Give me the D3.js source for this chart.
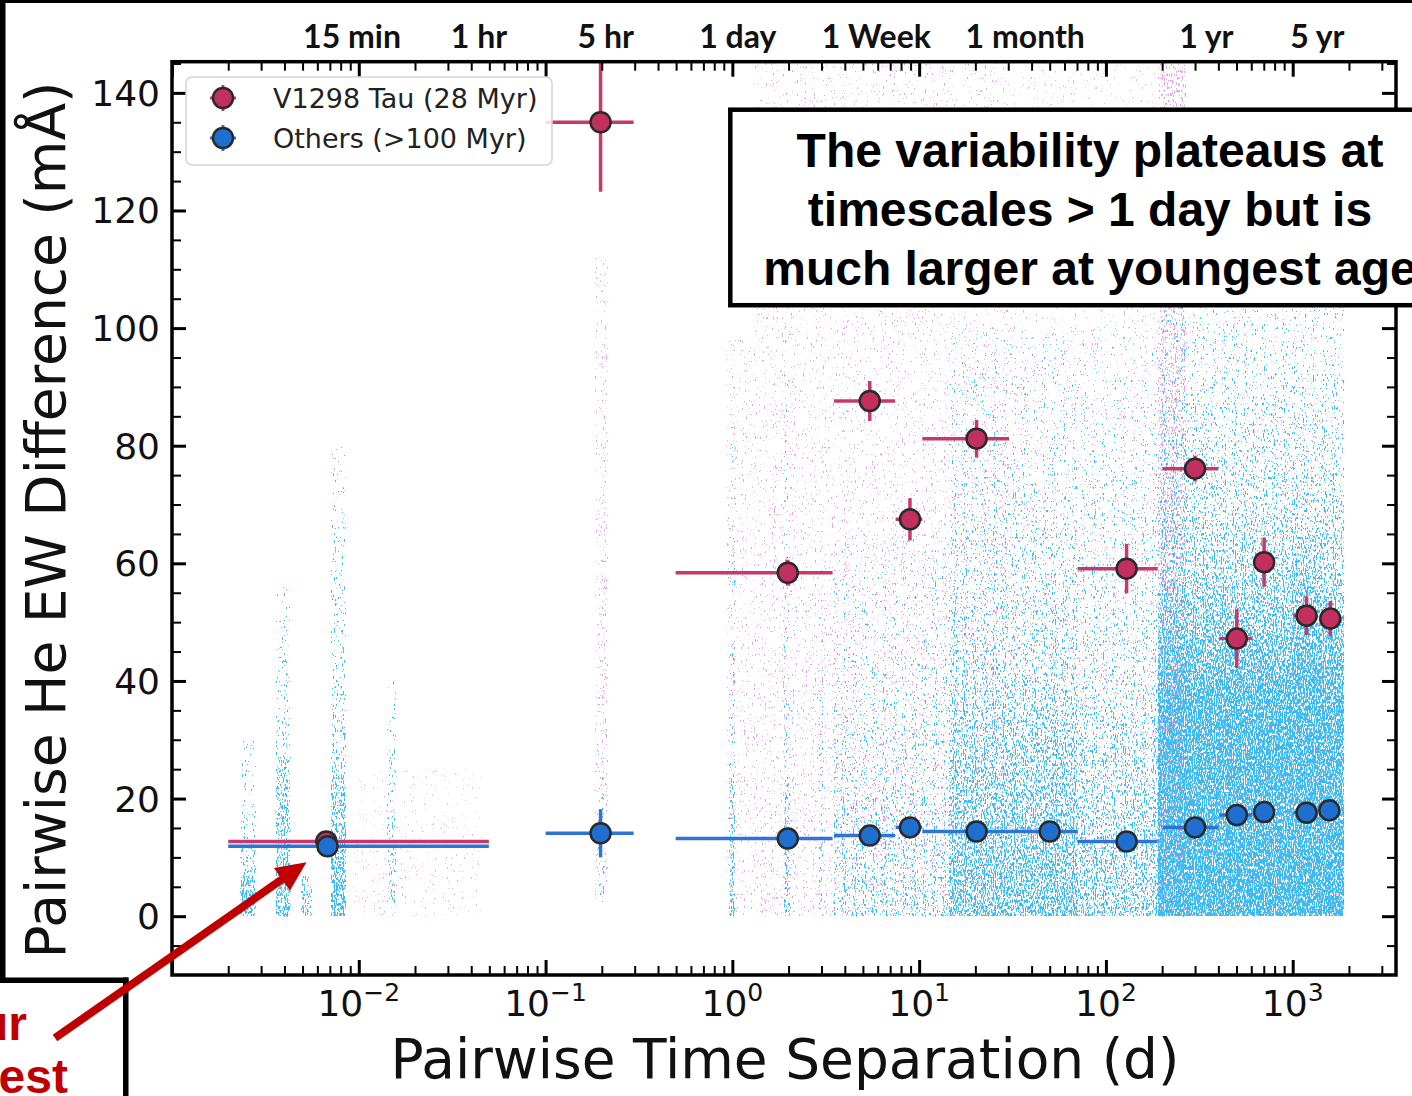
<!DOCTYPE html>
<html>
<head>
<meta charset="utf-8">
<script src="https://cdn.jsdelivr.net/npm/d3@7"></script>
<style>
  html, body { margin: 0; padding: 0; background: #ffffff; }
  svg { display: block; }
</style>
</head>
<body>
<svg id="fig" width="1412" height="1096"></svg>
<script>
// ---------------- data ----------------
// Binned pairwise He EW differences for V1298 Tau (28 Myr)
const v1298Day = [0.0067, 0.197, 1.98, 5.44, 8.93, 20.3, 129, 300, 502, 703, 1186, 1589];
const v1298EW  = [12.7, 135.0, 58.4, 87.6, 67.5, 81.2, 59.1, 76.1, 47.2, 60.2, 51.1, 50.6];
const v1298Lo  = [0.002, 0.1, 0.497, 3.5, 7.48, 10.4, 70.5, 201, 404, 643, 1007, 1416];
const v1298Hi  = [0.0497, 0.296, 3.44, 7.43, 10.4, 30.3, 189, 399, 610, 764, 1358, 1774];
const v1298Err = [0.3, 11.8, 2.2, 3.4, 3.6, 3.2, 4.2, 2.2, 5.0, 4.2, 3.3, 3.0];

// Binned pairwise He EW differences for the older comparison stars (>100 Myr)
const othersDay = [0.0068, 0.197, 1.98, 5.44, 8.93, 20.3, 50.0, 129, 300, 502, 703, 1186, 1570];
const othersEW  = [11.9, 14.1, 13.2, 13.7, 15.1, 14.4, 14.4, 12.7, 15.1, 17.2, 17.7, 17.6, 18.0];
const othersLo  = [0.002, 0.1, 0.497, 3.5, 7.48, 10.4, 30.3, 70.5, 201, 404, 643, 1007, 1416];
const othersHi  = [0.0497, 0.296, 3.44, 7.43, 10.4, 30.3, 70.5, 189, 399, 610, 764, 1358, 1774];
const othersErr = [0.5, 4.1, 0.8, 0.8, 0.8, 0.8, 0.8, 0.8, 0.8, 1.0, 1.0, 1.0, 1.0];

// Envelope of the individual pair measurements:
// [fromDay, toDay, lowEW, highEW, coverage at lowEW, coverage at highEW]
const cloudV1298 = [
  [0.0095, 0.045, 0, 25, 0.12, 0.08],
  [0.185, 0.215, 3, 112, 0.3, 0.2],
  [0.93, 1.3, 0, 98, 0.2, 0.15],
  [1.3, 30, 0, 145.3, 0.22, 0.15],
  [30, 190, 0, 145.3, 0.15, 0.1],
  [190, 268, 0, 145.3, 0.5, 0.4],
  [268, 1880, 0, 110, 0.15, 0.06]
];
const cloudOthers = [
  [0.00232, 0.0028, 0, 7, 0.7, 0.6],
  [0.00232, 0.0028, 7, 30, 0.4, 0.15],
  [0.0036, 0.0043, 0, 27, 0.7, 0.5],
  [0.0036, 0.0043, 27, 56, 0.35, 0.15],
  [0.0049, 0.0056, 0, 7, 0.6, 0.4],
  [0.0071, 0.0085, 0, 24, 0.75, 0.55],
  [0.0071, 0.0085, 24, 80, 0.4, 0.15],
  [0.0142, 0.0157, 2, 40, 0.4, 0.2],
  [0.19, 0.205, 2, 28, 0.35, 0.15],
  [0.96, 1.03, 0, 24, 0.6, 0.45],
  [0.96, 1.03, 24, 95, 0.3, 0.1],
  [1.9, 2.05, 0, 24, 0.55, 0.45],
  [1.9, 2.05, 24, 100, 0.3, 0.1],
  [2.9, 3.05, 0, 55, 0.45, 0.2],
  [3.5, 14.4, 0, 22, 0.4, 0.3],
  [3.5, 14.4, 22, 65, 0.3, 0.1],
  [14.4, 70, 0, 24, 0.7, 0.58],
  [14.4, 70, 24, 45, 0.58, 0.38],
  [14.4, 70, 45, 100, 0.38, 0.1],
  [70, 190, 0, 24, 0.58, 0.45],
  [70, 190, 24, 45, 0.45, 0.3],
  [70, 190, 45, 100, 0.3, 0.1],
  [190, 1880, 0, 36, 0.93, 0.88],
  [190, 1880, 36, 60, 0.88, 0.5],
  [190, 1880, 60, 105, 0.5, 0.15],
  [1000, 1420, 36, 66, 0.3, 0.1]
];

// Axis ticks and labels
const xDecades = [-3, -2, -1, 0, 1, 2, 3];
const xLabelDecades = [-2, -1, 0, 1, 2, 3];
const yMajor = [0, 20, 40, 60, 80, 100, 120, 140];
const topLabels = ["15 min", "1 hr", "5 hr", "1 day", "1 Week", "1 month", "1 yr", "5 yr"];
const topLabelDays = [0.0092, 0.044, 0.21, 1.07, 5.9, 37, 345, 1355];
const legendNames = ["V1298 Tau (28 Myr)", "Others (>100 Myr)"];
const noteLines = ["The variability plateaus at", "timescales > 1 day but is", "much larger at youngest age"];

// ---------------- styling ----------------
const RED_FILL = "#c3305f", RED_LINE = "#c8386a";
const BLUE_FILL = "#1f6fd0", BLUE_LINE = "#2d74d5";
const EDGE = "#2a2a2a";
const CLOUD_BLUE = "#3dbaf6", CLOUD_PINK = "#e2a2e6";
const AXIS_FONT = "'DejaVu Sans', sans-serif";

const W = 1412, H = 1096;
const plot = { left: 172, right: 1396, top: 61.7, bottom: 975 };

const svg = d3.select("#fig");
const defs = svg.append("defs");

const x = d3.scaleLog().domain([1e-3, Math.pow(10, 3.553)]).range([plot.left, plot.right]);
const y = d3.scaleLinear().domain([-10, 145.3]).range([plot.bottom, plot.top]);

defs.append("clipPath").attr("id", "plotClip")
  .append("rect")
  .attr("x", plot.left).attr("y", plot.top)
  .attr("width", plot.right - plot.left).attr("height", plot.bottom - plot.top);

// speckle texture for the dense point clouds: a pixel lights up where
// stretched noise exceeds (1 - coverage)
function speckleFilter(id, color, seed) {
  const f = defs.append("filter").attr("id", id)
    .attr("filterUnits", "userSpaceOnUse")
    .attr("x", 0).attr("y", 0).attr("width", W).attr("height", H)
    .attr("color-interpolation-filters", "sRGB");
  f.append("feTurbulence").attr("type", "fractalNoise")
    .attr("baseFrequency", "0.9 0.3").attr("numOctaves", 2).attr("seed", seed).attr("result", "noise");
  f.append("feColorMatrix").attr("in", "noise").attr("type", "matrix")
    .attr("values", "0 0 0 0 0  0 0 0 0 0  0 0 0 0 0  2.67 0 0 0 -1.02").attr("result", "n");
  f.append("feComposite").attr("in", "n").attr("in2", "SourceAlpha").attr("operator", "arithmetic")
    .attr("k1", 0).attr("k2", 8).attr("k3", 8).attr("k4", -8).attr("result", "mask");
  f.append("feFlood").attr("flood-color", color).attr("result", "col");
  f.append("feComposite").attr("in", "col").attr("in2", "mask").attr("operator", "in");
}
speckleFilter("speckPink", CLOUD_PINK, 11);
speckleFilter("speckBlue", CLOUD_BLUE, 4);

function drawCloud(rows, filterId, prefix) {
  rows.forEach((r, i) => {
    const gr = defs.append("linearGradient").attr("id", prefix + i)
      .attr("x1", 0).attr("y1", 1).attr("x2", 0).attr("y2", 0);
    gr.append("stop").attr("offset", 0).attr("stop-color", "#000").attr("stop-opacity", r[4]);
    gr.append("stop").attr("offset", 1).attr("stop-color", "#000").attr("stop-opacity", r[5]);
  });
  const g = svg.append("g").attr("clip-path", "url(#plotClip)")
    .append("g").attr("filter", `url(#${filterId})`);
  g.selectAll("rect").data(rows).join("rect")
    .attr("x", d => x(d[0]))
    .attr("width", d => x(d[1]) - x(d[0]))
    .attr("y", d => y(d[3]))
    .attr("height", d => y(d[2]) - y(d[3]))
    .attr("fill", (d, i) => `url(#${prefix}${i})`);
}
drawCloud(cloudV1298, "speckPink", "gPink");
drawCloud(cloudOthers, "speckBlue", "gBlue");

// ---------------- binned points with error bars ----------------
function drawSeries(day, ew, lo, hi, err, lineColor, fillColor) {
  const rows = day.map((d, i) => ({ d, v: ew[i], lo: lo[i], hi: hi[i], e: err[i] }));
  const g = svg.append("g").attr("clip-path", "url(#plotClip)");
  g.selectAll("line.xe").data(rows).join("line").attr("class", "xe")
    .attr("x1", r => x(r.lo)).attr("x2", r => x(r.hi))
    .attr("y1", r => y(r.v)).attr("y2", r => y(r.v))
    .attr("stroke", lineColor).attr("stroke-width", 3.5);
  g.selectAll("line.ye").data(rows).join("line").attr("class", "ye")
    .attr("x1", r => x(r.d)).attr("x2", r => x(r.d))
    .attr("y1", r => y(r.v - r.e)).attr("y2", r => y(r.v + r.e))
    .attr("stroke", lineColor).attr("stroke-width", 3.5);
  g.selectAll("circle").data(rows).join("circle")
    .attr("cx", r => x(r.d)).attr("cy", r => y(r.v)).attr("r", 10)
    .attr("fill", fillColor).attr("stroke", EDGE).attr("stroke-width", 2.5);
}
drawSeries(v1298Day, v1298EW, v1298Lo, v1298Hi, v1298Err, RED_LINE, RED_FILL);
drawSeries(othersDay, othersEW, othersLo, othersHi, othersErr, BLUE_LINE, BLUE_FILL);

// ---------------- axes ----------------
const domainMax = x.domain()[1];
const majorX = xDecades.map(k => Math.pow(10, k));
const minorX = [];
xDecades.forEach(k => { for (let m = 2; m <= 9; m++) { const v = m * Math.pow(10, k); if (v < domainMax) minorX.push(v); } });
const yMinor = d3.range(-5, 146, 5).filter(v => v % 20 !== 0);

function tickGroup(axis, transform, width) {
  const g = svg.append("g").attr("transform", transform).call(axis);
  g.select(".domain").remove();
  g.selectAll(".tick line").attr("stroke", "#000").attr("stroke-width", width);
  g.selectAll(".tick text").remove();
  return g;
}
tickGroup(d3.axisBottom(x).tickValues(majorX).tickSize(-15).tickSizeOuter(0), `translate(0,${plot.bottom})`, 3);
tickGroup(d3.axisBottom(x).tickValues(minorX).tickSize(-9).tickSizeOuter(0), `translate(0,${plot.bottom})`, 2);
tickGroup(d3.axisTop(x).tickValues(majorX).tickSize(-15).tickSizeOuter(0), `translate(0,${plot.top})`, 3);
tickGroup(d3.axisTop(x).tickValues(minorX).tickSize(-9).tickSizeOuter(0), `translate(0,${plot.top})`, 2);
tickGroup(d3.axisLeft(y).tickValues(yMajor).tickSize(-14).tickSizeOuter(0), `translate(${plot.left},0)`, 3);
tickGroup(d3.axisLeft(y).tickValues(yMinor).tickSize(-9).tickSizeOuter(0), `translate(${plot.left},0)`, 2);
tickGroup(d3.axisRight(y).tickValues(yMajor).tickSize(-14).tickSizeOuter(0), `translate(${plot.right},0)`, 3);
tickGroup(d3.axisRight(y).tickValues(yMinor).tickSize(-9).tickSizeOuter(0), `translate(${plot.right},0)`, 2);

svg.append("rect")
  .attr("x", plot.left).attr("y", plot.top)
  .attr("width", plot.right - plot.left).attr("height", plot.bottom - plot.top)
  .attr("fill", "none").attr("stroke", "#000").attr("stroke-width", 3.5);

// x tick labels 10^k
const xl = svg.append("g").attr("font-family", AXIS_FONT).attr("fill", "#111");
xLabelDecades.forEach(k => {
  const t = xl.append("text").attr("x", x(Math.pow(10, k))).attr("y", 1016)
    .attr("text-anchor", "middle").attr("font-size", 36);
  t.append("tspan").text("10");
  t.append("tspan").attr("font-size", 25).attr("dy", -15).text(k < 0 ? "\u2212" + Math.abs(k) : String(k));
});

// y tick labels
svg.append("g").attr("font-family", AXIS_FONT).attr("fill", "#111")
  .selectAll("text").data(yMajor).join("text")
  .attr("x", 160).attr("y", v => y(v) + 13)
  .attr("text-anchor", "end").attr("font-size", 36)
  .text(v => v);

// timescale labels along the top
svg.append("g").attr("font-family", "Lato, sans-serif").attr("font-weight", 700).attr("fill", "#111")
  .selectAll("text").data(topLabels).join("text")
  .attr("x", (s, i) => x(topLabelDays[i])).attr("y", 48)
  .attr("text-anchor", "middle").attr("font-size", 32)
  .text(s => s);

// axis titles
svg.append("text").attr("x", 785).attr("y", 1078)
  .attr("text-anchor", "middle").attr("font-family", AXIS_FONT).attr("font-size", 55).attr("fill", "#111")
  .text("Pairwise Time Separation (d)");
svg.append("text").attr("transform", "translate(65,520) rotate(-90)")
  .attr("text-anchor", "middle").attr("font-family", AXIS_FONT).attr("font-size", 55).attr("fill", "#111")
  .text("Pairwise He EW Difference (m\u00C5)");

// ---------------- legend ----------------
const lg = svg.append("g");
lg.append("rect").attr("x", 186).attr("y", 77).attr("width", 366).attr("height", 88).attr("rx", 6)
  .attr("fill", "#fff").attr("fill-opacity", 0.85).attr("stroke", "#d4d4d4").attr("stroke-width", 1.5);
const legendStyle = [[RED_LINE, RED_FILL], [BLUE_LINE, BLUE_FILL]];
legendNames.forEach((name, i) => {
  const cy = 98 + i * 40, cx = 223;
  lg.append("line").attr("x1", cx - 13).attr("x2", cx + 13).attr("y1", cy).attr("y2", cy)
    .attr("stroke", legendStyle[i][0]).attr("stroke-width", 3);
  lg.append("line").attr("x1", cx).attr("x2", cx).attr("y1", cy - 13).attr("y2", cy + 13)
    .attr("stroke", legendStyle[i][0]).attr("stroke-width", 3);
  lg.append("circle").attr("cx", cx).attr("cy", cy).attr("r", 10)
    .attr("fill", legendStyle[i][1]).attr("stroke", EDGE).attr("stroke-width", 2.5);
  lg.append("text").attr("x", 273).attr("y", cy + 9.5)
    .attr("font-family", AXIS_FONT).attr("font-size", 27).attr("fill", "#222").text(name);
});

// ---------------- annotation box ----------------
svg.append("rect").attr("x", 730.3).attr("y", 109.7).attr("width", 760).attr("height", 195.5)
  .attr("fill", "#fff").attr("stroke", "#000").attr("stroke-width", 4.5);
svg.append("g").attr("font-family", "'Liberation Sans', Arial, sans-serif").attr("font-weight", 700)
  .attr("font-size", 48).attr("fill", "#000")
  .selectAll("text").data(noteLines).join("text")
  .attr("x", 1090).attr("y", (s, i) => 167 + i * 58.8)
  .attr("text-anchor", "middle").text(s => s);

// ---------------- slide frame and callout ----------------
const frame = svg.append("g").attr("fill", "#000");
frame.append("rect").attr("x", 0).attr("y", 0).attr("width", W).attr("height", 3);
frame.append("rect").attr("x", 0).attr("y", 0).attr("width", 5.5).attr("height", 983);
frame.append("rect").attr("x", 0).attr("y", 977.5).attr("width", 128.5).attr("height", 5.5);
frame.append("rect").attr("x", 123).attr("y", 977.5).attr("width", 5.5).attr("height", H - 977.5);

const callout = svg.append("g").attr("fill", "#c00000")
  .attr("font-family", "'Liberation Sans', Arial, sans-serif").attr("font-weight", 700).attr("font-size", 48);
callout.append("text").attr("x", 27).attr("y", 1040).attr("text-anchor", "end").text("Our");
callout.append("text").attr("x", 68).attr("y", 1093).attr("text-anchor", "end").text("youngest");

// arrow pointing at the short-lag bin
const tip = [x(othersDay[0]) - 21, y(othersEW[0]) + 16];
const tail = [55, 1038];
const dx = tip[0] - tail[0], dy = tip[1] - tail[1], len = Math.hypot(dx, dy);
const ux = dx / len, uy = dy / len, px = -uy, py = ux;
const headLen = 30, headHalf = 14;
const base = [tip[0] - headLen * ux, tip[1] - headLen * uy];
svg.append("line").attr("x1", tail[0]).attr("y1", tail[1]).attr("x2", base[0] + 2 * ux).attr("y2", base[1] + 2 * uy)
  .attr("stroke", "#c00000").attr("stroke-width", 8);
svg.append("polygon")
  .attr("points", [tip, [base[0] + headHalf * px, base[1] + headHalf * py], [base[0] - headHalf * px, base[1] - headHalf * py]]
    .map(p => p.join(",")).join(" "))
  .attr("fill", "#c00000");
</script>
</body>
</html>
